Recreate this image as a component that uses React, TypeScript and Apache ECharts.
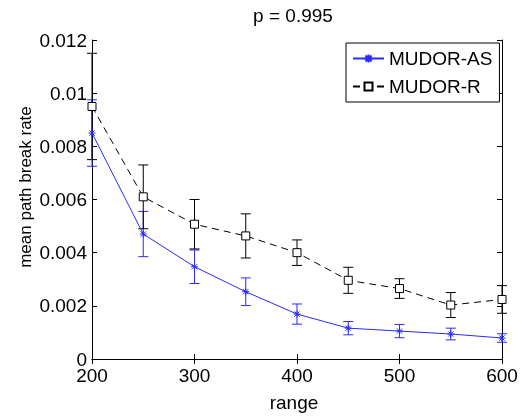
import React, { useEffect, useRef } from "react";
import * as echarts from "echarts";

const ranges = [200, 250, 300, 350, 400, 450, 500, 550, 600];
const asMean = [0.0085, 0.0047, 0.00347, 0.00253, 0.00169, 0.00116, 0.00105, 0.00094, 0.00079];
const asErr = [0.00125, 0.00085, 0.00063, 0.00052, 0.00038, 0.00025, 0.00025, 0.00022, 0.00016];
const rMean = [0.0095, 0.0061, 0.00507, 0.00463, 0.004, 0.00296, 0.00265, 0.00203, 0.00224];
const rErr = [0.002, 0.0012, 0.00093, 0.00083, 0.00048, 0.00049, 0.00037, 0.00047, 0.00052];
const yTicks = [0, 0.002, 0.004, 0.006, 0.008, 0.01, 0.012];

const FONT = "'Liberation Sans', Arial, Helvetica, sans-serif";
const BLUE = "#2a2aff";

function errRender(color: string) {
  return (params: any, api: any) => {
    const x = api.value(0);
    const lo = api.value(1);
    const hi = api.value(2);
    const t = api.coord([x, hi]);
    const b = api.coord([x, lo]);
    const w = 5;
    const st = { stroke: color, lineWidth: 1 };
    return {
      type: "group",
      children: [
        { type: "line", shape: { x1: t[0], y1: t[1], x2: b[0], y2: b[1] }, style: st },
        { type: "line", shape: { x1: t[0] - w, y1: t[1], x2: t[0] + w, y2: t[1] }, style: st },
        { type: "line", shape: { x1: b[0] - w, y1: b[1], x2: b[0] + w, y2: b[1] }, style: st },
      ],
    };
  };
}

export default function App() {
  const ref = useRef<HTMLDivElement>(null);
  useEffect(() => {
    if (!ref.current) return;
    const chart = echarts.init(ref.current, undefined, { renderer: "svg" });
    const asLine = ranges.map((x, i) => [x, asMean[i]]);
    const rLine = ranges.map((x, i) => [x, rMean[i]]);
    const asBars = ranges.map((x, i) => [x, asMean[i] - asErr[i], asMean[i] + asErr[i]]);
    const rBars = ranges.map((x, i) => [x, rMean[i] - rErr[i], rMean[i] + rErr[i]]);
    const axisCommon = {
      axisLine: { show: true, lineStyle: { color: "#000", width: 1 } },
      axisTick: { show: true, inside: true, length: 5, lineStyle: { color: "#000" } },
      splitLine: { show: false },
    };
    chart.setOption({
      animation: false,
      grid: { left: 92, right: 22, top: 40, bottom: 58 },
      xAxis: [
        {
          type: "value", min: 200, max: 600, interval: 100, position: "bottom",
          ...axisCommon,
          axisLabel: { fontSize: 19, lineHeight: 16, color: "#000", fontFamily: FONT, margin: 8 },
        },
        {
          type: "value", min: 200, max: 600, interval: 100, position: "top",
          ...axisCommon,
          axisLabel: { show: false },
        },
      ],
      yAxis: [
        {
          type: "value", min: yTicks[0], max: yTicks[yTicks.length - 1], interval: 0.002, position: "left",
          ...axisCommon,
          axisLabel: {
            fontSize: 19, lineHeight: 15, color: "#000", fontFamily: FONT, margin: 5,
            padding: [0, 0, 7, 0],
            formatter: (v: number) => String(parseFloat(v.toFixed(4))),
          },
        },
        {
          type: "value", min: yTicks[0], max: yTicks[yTicks.length - 1], interval: 0.002, position: "right",
          ...axisCommon,
          axisLabel: { show: false },
        },
      ],
      legend: {
        data: ["MUDOR-AS", "MUDOR-R"],
        orient: "vertical",
        left: 346,
        top: 43,
        padding: [6, 7, 6, 6],
        itemGap: 9,
        itemWidth: 31,
        itemHeight: 10,
        backgroundColor: "#fff",
        borderColor: "#000",
        borderWidth: 1,
        borderRadius: 0,
        textStyle: { fontSize: 19, color: "#000", fontFamily: FONT },
      },
      graphic: [
        {
          type: "text", x: 293, y: 15,
          style: { text: "p = 0.995", font: `19px ${FONT}`, fill: "#000", align: "center", verticalAlign: "middle" },
        },
        {
          type: "text", x: 294, y: 402,
          style: { text: "range", font: `19px ${FONT}`, fill: "#000", align: "center", verticalAlign: "middle" },
        },
        {
          type: "text", x: 25, y: 187, rotation: Math.PI / 2,
          style: { text: "mean path break rate", font: `17px ${FONT}`, fill: "#000", align: "center", verticalAlign: "middle" },
        },
      ],
      series: [
        {
          name: "AS err", type: "custom", renderItem: errRender(BLUE), data: asBars,
          encode: { x: 0, y: [1, 2] }, clip: false, z: 2,
        },
        {
          name: "R err", type: "custom", renderItem: errRender("#000"), data: rBars,
          encode: { x: 0, y: [1, 2] }, clip: false, z: 2,
        },
        {
          name: "MUDOR-AS", type: "line", data: asLine,
          symbol: "path://M0,-4L0,4M-4,0L4,0M-3,-3L3,3M-3,3L3,-3",
          symbolSize: 7,
          lineStyle: { color: BLUE, width: 1 },
          itemStyle: { color: BLUE, borderColor: BLUE, borderWidth: 1 },
          z: 3,
        },
        {
          name: "MUDOR-R", type: "line", data: rLine,
          symbol: "rect", symbolSize: 8,
          lineStyle: { color: "#000", width: 1, type: [7, 5] },
          itemStyle: { color: "#fff", borderColor: "#000", borderWidth: 1 },
          z: 3,
        },
      ],
    });
    return () => chart.dispose();
  }, []);
  return <div ref={ref} style={{ position: "fixed", left: 0, top: 0, width: 524, height: 417 }} />;
}
